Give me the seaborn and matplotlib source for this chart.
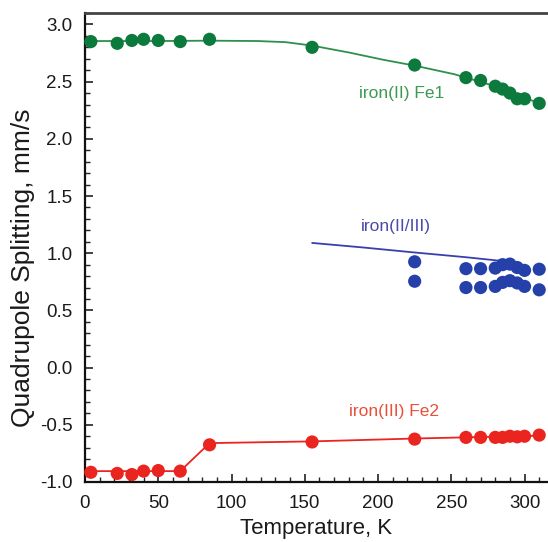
import numpy as np
import pandas as pd
import matplotlib
matplotlib.use("Agg")
import matplotlib.pyplot as plt
from matplotlib.ticker import MultipleLocator
import seaborn as sns

sns.set_theme(style="white")
plt.rcParams['font.family'] = ['Liberation Sans', 'DejaVu Sans']

# ---- data ----
temps = [4, 22, 32, 40, 50, 65, 85, 155, 225, 260, 270, 280, 285, 290, 295, 300, 310]
fe1_qs = [2.85, 2.835, 2.86, 2.87, 2.86, 2.85, 2.87, 2.80, 2.645, 2.535, 2.51, 2.46,
          2.435, 2.40, 2.35, 2.35, 2.31]
fe2_qs = [-0.915, -0.925, -0.935, -0.905, -0.90, -0.905, -0.675, -0.65, -0.625,
          -0.61, -0.61, -0.61, -0.61, -0.60, -0.605, -0.60, -0.59]

mixed_temps = [225, 260, 270, 280, 285, 290, 295, 300, 310]
mixed_upper = [0.925, 0.865, 0.865, 0.87, 0.90, 0.905, 0.875, 0.85, 0.86]
mixed_lower = [0.755, 0.70, 0.70, 0.71, 0.745, 0.76, 0.74, 0.71, 0.68]

fe1_fit_t = [0, 50, 85, 118, 137, 155, 180, 204, 225, 252, 260, 280, 300, 310]
fe1_fit_v = [2.855, 2.855, 2.858, 2.855, 2.845, 2.815, 2.755, 2.69, 2.64, 2.565,
             2.535, 2.46, 2.36, 2.31]
fe2_fit_t = [4, 65, 85, 155, 225, 310]
fe2_fit_v = [-0.905, -0.905, -0.66, -0.645, -0.62, -0.595]
mixed_fit_t = [155, 190, 222, 260, 290]
mixed_fit_v = [1.09, 1.05, 1.01, 0.965, 0.925]

labels = ["iron(II) Fe1", "iron(II/III)", "iron(III) Fe2"]

GREEN = "#0b7a3c"
GREEN_L = "#2f8f4c"
GREEN_T = "#3c9a52"
BLUE = "#2540a8"
BLUE_L = "#3a3fae"
BLUE_T = "#4a4aaa"
RED = "#ea2520"
RED_T = "#e8503a"

fig = plt.figure(figsize=(5.48, 5.42), dpi=100)
ax = fig.add_axes([85 / 548, 1 - 482 / 542, 1 - 85 / 548, (482 - 13) / 542])

# fit lines
sns.lineplot(x=fe1_fit_t, y=fe1_fit_v, ax=ax, color=GREEN_L, lw=1.3, estimator=None, sort=False)
sns.lineplot(x=fe2_fit_t, y=fe2_fit_v, ax=ax, color=RED, lw=1.3, estimator=None, sort=False)
sns.lineplot(x=mixed_fit_t, y=mixed_fit_v, ax=ax, color=BLUE_L, lw=1.3, estimator=None, sort=False)

# points
ms = 90
sns.scatterplot(x=temps, y=fe1_qs, ax=ax, color=GREEN, s=ms, edgecolor="none", zorder=3, clip_on=False)
sns.scatterplot(x=temps, y=fe2_qs, ax=ax, color=RED, s=ms, edgecolor="none", zorder=3, clip_on=False)
sns.scatterplot(x=mixed_temps, y=mixed_upper, ax=ax, color=BLUE, s=ms, edgecolor="none", zorder=3)
sns.scatterplot(x=mixed_temps, y=mixed_lower, ax=ax, color=BLUE, s=ms, edgecolor="none", zorder=3)

# series labels
ax.text(216, 2.40, labels[0], color=GREEN_T, fontsize=12.5, ha="center", va="center")
ax.text(212, 1.236, labels[1], color=BLUE_T, fontsize=12.5, ha="center", va="center")
ax.text(211, -0.384, labels[2], color=RED_T, fontsize=12.5, ha="center", va="center")

ax.set_xlim(0, 316)
ax.set_ylim(-1.0, 3.1)
ax.xaxis.set_major_locator(MultipleLocator(50))
ax.xaxis.set_minor_locator(MultipleLocator(10))
ax.yaxis.set_major_locator(MultipleLocator(0.5))
ax.yaxis.set_minor_locator(MultipleLocator(0.1))
ax.set_xticks([0, 50, 100, 150, 200, 250, 300])
ax.set_yticks([-1.0, -0.5, 0.0, 0.5, 1.0, 1.5, 2.0, 2.5, 3.0])
ax.set_yticklabels(["-1.0", "-0.5", "0.0", "0.5", "1.0", "1.5", "2.0", "2.5", "3.0"])

ax.tick_params(which="both", direction="in", color="#222222", top=False, right=False,
               bottom=True, left=True)
ax.tick_params(which="major", length=6, width=1.2, labelsize=13.5, labelcolor="#1a1a1a")
ax.tick_params(axis="x", which="major", pad=9)
ax.tick_params(axis="y", which="major", pad=9)
ax.tick_params(which="minor", length=3.5, width=1.0)

for side in ["left", "bottom"]:
    ax.spines[side].set_color("#111111")
    ax.spines[side].set_linewidth(1.6)
ax.spines["top"].set_color("#444444")
ax.spines["top"].set_linewidth(2.0)
ax.spines["right"].set_visible(False)

ax.set_xlabel("Temperature, K", fontsize=16, color="#1a1a1a")
ax.set_ylabel("Quadrupole Splitting, mm/s", fontsize=19, color="#1a1a1a")
ax.xaxis.set_label_coords(0.5, -0.077)
ax.yaxis.set_label_coords(-0.108, 0.456)

fig.savefig("out.png", dpi=100)
